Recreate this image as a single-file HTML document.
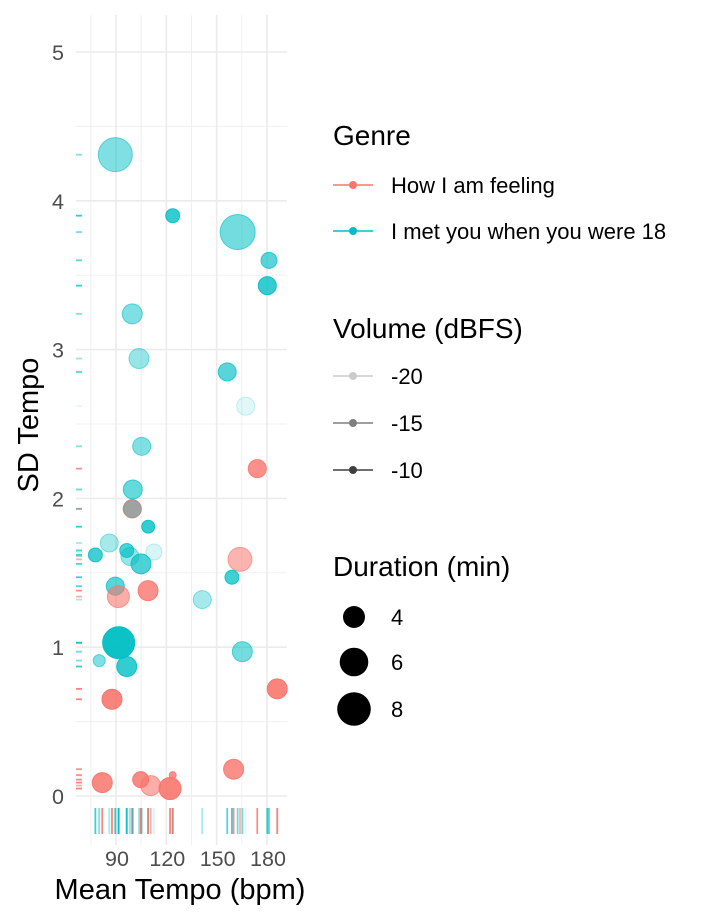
<!DOCTYPE html>
<html><head><meta charset="utf-8"><style>
body{margin:0;background:#fff;font-family:"Liberation Sans",sans-serif}
</style></head><body>
<svg id="chart" width="720" height="921" viewBox="0 0 720 921" xmlns="http://www.w3.org/2000/svg" style="display:block">
<g id="grid"></g>
<g id="rugs"></g>
<g id="points"></g>
<g id="axes" font-size="21.5" fill="#4d4d4d"></g>
<text transform="translate(38,425) rotate(-90)" text-anchor="middle" font-size="29" fill="#000">SD Tempo</text>
<text x="180" y="899" text-anchor="middle" font-size="29" fill="#000">Mean Tempo (bpm)</text>
<g font-size="22" fill="#000">
 <text x="333" y="145" font-size="28">Genre</text>
 <g>
  <line x1="333" x2="373" y1="185" y2="185" stroke="#F8766D" stroke-width="1.5"/><circle cx="353" cy="185" r="4" fill="#F8766D"/>
  <text x="391" y="193">How I am feeling</text></g>
 <g>
  <line x1="333" x2="373" y1="231" y2="231" stroke="#00BFC4" stroke-width="1.5"/><circle cx="353" cy="231" r="4" fill="#00BFC4"/>
  <text x="391" y="239">I met you when you were 18</text></g>
 <text x="333" y="338" font-size="28">Volume (dBFS)</text>
 <g opacity="0.2">
  <line x1="333" x2="373" y1="376" y2="376" stroke="#000" stroke-width="1.5"/><circle cx="353" cy="376" r="4" fill="#000"/></g>
 <text x="391" y="384">-20</text>
 <g opacity="0.5">
  <line x1="333" x2="373" y1="423" y2="423" stroke="#000" stroke-width="1.5"/><circle cx="353" cy="423" r="4" fill="#000"/></g>
 <text x="391" y="431">-15</text>
 <g opacity="0.75">
  <line x1="333" x2="373" y1="470" y2="470" stroke="#000" stroke-width="1.5"/><circle cx="353" cy="470" r="4" fill="#000"/></g>
 <text x="391" y="478">-10</text>
 <text x="333" y="576" font-size="28">Duration (min)</text>
 <circle cx="354" cy="617" r="11" fill="#000"/><text x="391" y="625">4</text>
 <circle cx="354" cy="662" r="14.3" fill="#000"/><text x="391" y="670">6</text>
 <circle cx="354" cy="709" r="16.8" fill="#000"/><text x="391" y="717">8</text>
</g>
</svg>
<script>
const genre = ["B","B","B","B","B","B","B","B","B","B","A","B","B","A","B","B","B","B","B","B","B","A","B","B","A","A","B","B","B","B","B","A","A","A","A","A","A","A","A"];
const tempo = [89.6,123.8,162.5,181.2,180.2,99.7,103.7,156.3,167.3,105.3,174.2,100,99.7,99.7,109.2,86,77.7,96.4,98.3,112.6,104.9,163.9,159.1,89.6,91.4,109.1,141.4,91.6,165.3,80,96.4,186.1,87.6,81.8,104.7,110.7,122.2,123.8,160.1];
const sdTempo = [4.31,3.90,3.79,3.60,3.43,3.24,2.94,2.85,2.62,2.35,2.20,2.06,1.93,1.93,1.81,1.70,1.62,1.65,1.61,1.64,1.56,1.59,1.47,1.41,1.34,1.38,1.32,1.03,0.97,0.91,0.87,0.72,0.65,0.09,0.11,0.07,0.05,0.14,0.18];
const duration = [8.1,2.37,8.5,2.73,3.14,3.59,3.59,3.14,3.14,3.14,3.14,3.36,3.14,3.14,2.2,3.14,2.37,2.37,3.14,2.73,3.59,4.64,2.37,3.14,4.09,3.59,3.14,7.3,3.59,2.07,3.59,3.59,3.59,3.59,2.73,3.59,4.09,1.5,3.59];
const volume = [-15.8,-11.1,-15,-13.4,-11.1,-15.8,-17.3,-13.4,-21.7,-15.8,-11.1,-14.2,-11.9,-15.8,-11.1,-18.1,-11.9,-12.7,-17.3,-21.2,-12.7,-15,-11.9,-13.4,-14.2,-11.1,-18.1,-8.8,-15,-15.8,-11.1,-9.6,-9.6,-10.3,-10.3,-14.2,-9.6,-11.1,-11.1];
const xTicks = [90,120,150,180];
const xMinor = [75,105,135,165];
const yTicks = [0,1,2,3,4,5];
const yMinor = [0.5,1.5,2.5,3.5,4.5];

const NS="http://www.w3.org/2000/svg";
const PL=76, PR=287, PT=15, PB=845;
const xs = v => 116 + (v-90)*50.33/30;
const ys = v => 796 - v*148.8;
const rs = d => Math.sqrt(12.25 + Math.max(0,(d-1.5))/7*294);
const al = v => Math.min(1,Math.max(0.08, 0.1 + (v+22)/14*0.9));
const col = g => g==="A" ? "#F8766D" : "#00BFC4";
function mk(tag, attrs, parent){const e=document.createElementNS(NS,tag);for(const k in attrs)e.setAttribute(k,attrs[k]);parent.appendChild(e);return e;}
const grid=document.getElementById('grid'), rugs=document.getElementById('rugs'), pts=document.getElementById('points'), axes=document.getElementById('axes');
yMinor.forEach(v=>{const l=mk('line',{x1:PL,x2:PR,y1:ys(v),y2:ys(v),stroke:'#f0f0f0','stroke-width':1},grid);

});
xMinor.forEach(v=>{const l=mk('line',{x1:xs(v),x2:xs(v),y1:PT,y2:PB,stroke:'#f0f0f0','stroke-width':1},grid);

});
yTicks.forEach(v=>{const l=mk('line',{x1:PL,x2:PR,y1:ys(v),y2:ys(v),stroke:'#ebebeb','stroke-width':1.6},grid);


const t=mk('text',{x:64,y:ys(v)+8,'text-anchor':'end'},axes);t.textContent=v;

});
xTicks.forEach(v=>{const l=mk('line',{x1:xs(v),x2:xs(v),y1:PT,y2:PB,stroke:'#ebebeb','stroke-width':1.6},grid);


const t=mk('text',{x:xs(v)+1,y:866,'text-anchor':'middle'},axes);t.textContent=v;

});
for(let i=0;i<tempo.length;i++){
 const c=col(genre[i]), a=al(volume[i]);
 const r1=mk('line',{x1:76,x2:82,y1:ys(sdTempo[i]),y2:ys(sdTempo[i]),stroke:c,'stroke-opacity':a,'stroke-width':1.8},rugs);
 
 
 const r2=mk('line',{x1:xs(tempo[i]),x2:xs(tempo[i]),y1:808,y2:834,stroke:c,'stroke-opacity':a,'stroke-width':1.8},rugs);
 
 
 const p=mk('circle',{cx:xs(tempo[i]),cy:ys(sdTempo[i]),r:rs(duration[i]),fill:c,'fill-opacity':a,stroke:c,'stroke-opacity':Math.min(1,a+0.1),'stroke-width':1},pts);
 
 
}
</script>
</body></html>
